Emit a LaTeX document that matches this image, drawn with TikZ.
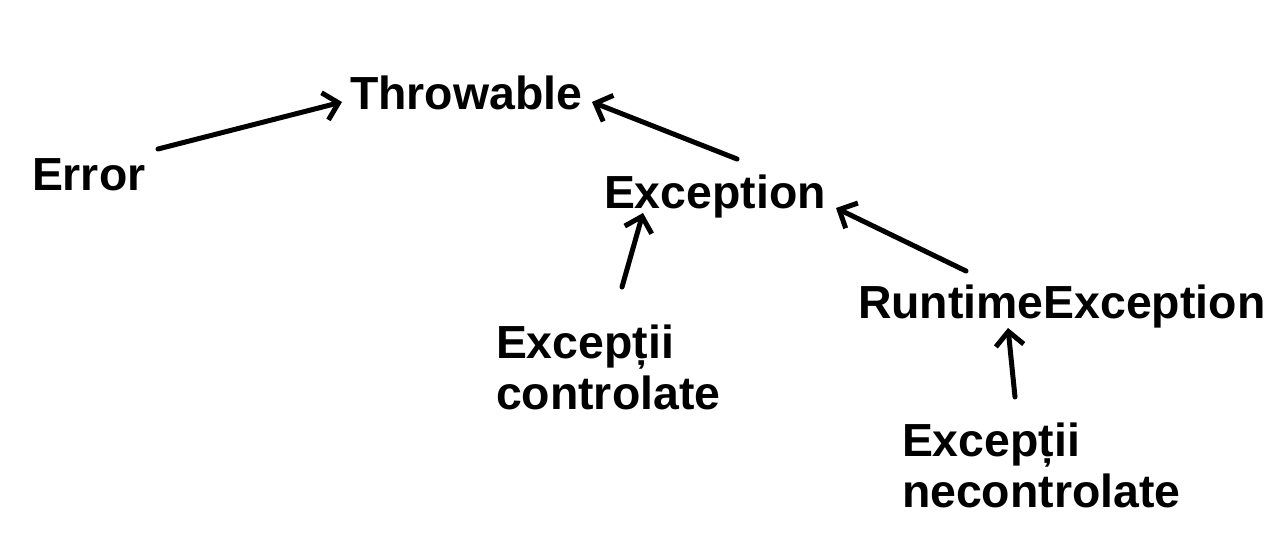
\documentclass[tikz,border=0pt]{standalone}
\usepackage{fontspec}
\setmainfont{Liberation Sans}
\usetikzlibrary{arrows.meta}
\tikzset{
  lbl/.style={anchor=base west, inner sep=0pt, outer sep=0pt, font=\fontsize{46.4}{51}\selectfont\bfseries, align=left},
  conn/.style={line width=5pt, -{Straight Barb[length=14pt,width=28pt,line width=5pt]}, line cap=round}
}
\begin{document}
\begin{tikzpicture}[x=1pt,y=-1pt]
\useasboundingbox (0,0) rectangle (1281,558);
\node[lbl] (thr) at (350,109) {Throwable};
\node[lbl] (err) at (32,190) {Error};
\node[lbl] (exc) at (604,208) {Exception};
\node[lbl] (rte) at (858,318) {RuntimeException};
\node[lbl] (ctl) at (496,409) {Excepții\\controlate};
\node[lbl] (nct) at (902,507) {Excepții\\necontrolate};
% connector end points
\coordinate (errT) at (158,149);
\coordinate (thrA) at (342,102);
\coordinate (excT) at (737,159);
\coordinate (thrB) at (592,102);
\coordinate (ctlT) at (622,287);
\coordinate (excA) at (643,213);
\coordinate (rteT) at (966,271);
\coordinate (excB) at (836,208);
\coordinate (nctT) at (1015,397);
\coordinate (rteA) at (1008,328);
\draw[conn] (errT) -- (thrA);
\draw[conn] (excT) -- (thrB);
\draw[conn] (ctlT) -- (excA);
\draw[conn] (rteT) -- (excB);
\draw[conn] (nctT) -- (rteA);
\end{tikzpicture}
\end{document}
